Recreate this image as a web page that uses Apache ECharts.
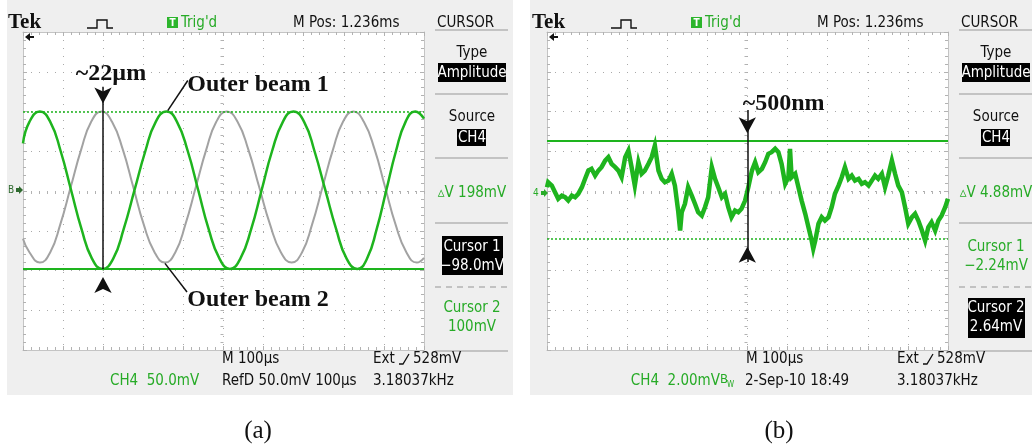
<!DOCTYPE html>
<html><head><meta charset="utf-8">
<script src="https://cdn.jsdelivr.net/npm/echarts/dist/echarts.min.js"></script>
<style>html,body{margin:0;padding:0;background:#fff;}#c{width:1034px;height:445px;}</style>
</head><body><div id="c"></div>
<script>
// ---------- DATA (time in µs, amplitude in mV) ----------
// Panel (a): CH4 live trace (green) and RefD reference trace (grey)
const aGreenTime = [0, 16, 42, 68, 94, 120, 146, 172, 198, 225, 251, 278, 305, 331, 358, 384, 411, 437, 463, 490, 516, 542, 569, 595, 621, 648, 674, 701, 727, 754, 781, 807, 834, 858, 882, 906, 930, 954, 978, 1000];
const aGreenMV   = [60, 87, 100, 87, 50, 1, -48, -85, -98, -85, -48, 1, 50, 87, 100, 87, 50, 1, -48, -85, -98, -85, -48, 1, 50, 87, 100, 87, 50, 1, -48, -85, -98, -85, -48, 1, 50, 87, 100, 91];
const aGrayTime  = [0, 16, 42, 68, 93, 119, 145, 170, 196, 222, 249, 275, 301, 328, 354, 380, 405, 431, 457, 482, 508, 535, 562, 589, 616, 643, 670, 696, 721, 747, 773, 798, 824, 850, 877, 903, 929, 956, 982, 1000];
const aGrayMV    = [-60, -77, -90, -77, -42, 5, 52, 87, 100, 87, 52, 5, -42, -77, -90, -77, -42, 5, 52, 87, 100, 87, 52, 5, -42, -77, -90, -77, -42, 5, 52, 87, 100, 87, 52, 5, -42, -77, -90, -84];
const aCursorsMV = [-98.0, 100];   // Cursor 1 (selected, solid), Cursor 2 (dotted)
const aYRange    = [-200, 200];    // 50 mV/div x 8 div

// Panel (b): CH4 noise trace
const bTime = [0, 3, 12, 20, 28, 37, 45, 53, 62, 70, 78, 87, 95, 103, 111, 120, 128, 136, 145, 153, 161, 170, 178, 186, 195, 203, 211, 219, 228, 236, 244, 253, 261, 269, 278, 286, 294, 303, 311, 319, 327, 332, 336, 344, 352, 361, 369, 377, 386, 394, 402, 411, 419, 427, 436, 444, 452, 460, 469, 477, 485,
  494, 502, 511, 519, 527, 536, 544, 552, 560, 569, 577, 585, 594, 602, 606, 610, 619, 627, 635, 644, 652, 660, 664, 669, 677, 685, 693, 702, 710, 718, 727, 735, 743, 752, 760, 768, 777, 785, 793, 802, 810, 818, 826, 835, 843, 851, 860, 868, 876, 885, 893, 901, 910, 918, 926, 935, 943, 951, 959, 968, 976, 984, 993, 1000];
const bMV = [0.34, 0.59, 0.42, 0.09, -0.24, -0.08, -0.16, -0.33, -0.08, -0.16, 0.01, 0.34, 0.76, 1.17, 1.26, 0.92, 1.17, 1.34, 1.67, 1.84, 1.51, 1.34, 1.17, 0.84, 1.84, 2.17, 1.34, 0.42, 1.59, 1.01, 1.17, 1.51, 1.84, 2.42, 1.17, 0.76, 0.59, 0.67, 1.01, 0.42, -0.83, -1.83, -0.91, -0.49, 0.34, -0.08, -0.49, -0.91, -1.08, -0.66, -0.16, 1.34, 0.76, 0.34, -0.16, 0.01, -0.66, -1.16, -0.83, -0.91, -0.74,
  -0.33, 0.34, 1.17, 1.59, 1.09, 1.26, 1.59, 2.01, 2.09, 2.26, 2.09, 1.51, 0.51, 0.84, 2.26, 0.84, 1.01, 0.34, -0.33, -0.99, -1.66, -2.33, -2.74, -2.33, -1.49, -1.16, -1.33, -1.16, -0.66, 0.01, 0.42, 0.84, 1.34, 0.76, 0.92, 0.67, 0.76, 0.51, 0.59, 0.42, 0.67, 0.92, 0.76, 1.01, 0.34, 0.92, 1.67, 1.01, 0.42, 0.09, -0.66, -1.49, -1.16, -0.99, -1.33, -1.83, -2.33, -1.66, -1.41, -1.83, -1.33, -1.08, -0.66, -0.24];
const bCursorsMV = [-2.24, 2.64];  // Cursor 1 (dotted), Cursor 2 (selected, solid)
const bYRange    = [-7.8, 8.1];    // 2 mV/div, ground marker slightly below centre

// Annotations (data units)
const annA = {t: 199.5, top: 131, tipDown: 100, tipUp: -98, lbl: [219.5, 148], beam1: [586, 133], beam1Line: [[361, 101], [411, 139]], beam2: [586, -137], beam2Line: [[354, -91], [409, -127]]};
const annB = {t: 499.5, top: 4.2, tipDown: 2.64, tipUp: -2.24, bottom: -3.4, lbl: [590, 4.5]};

// ---------- STYLE ----------
const UI = "'Liberation Sans Narrow','DejaVu Sans Condensed','Liberation Sans',sans-serif";
const SERIF = "'Liberation Serif','Times New Roman',serif";
const TRACE_G = '#1eb41e', TXT_G = '#27ab27', GRID_C = '#b2b2b2';
const FS = '15px ';

function gridAxes(gi, pos, off) {
  const tick = {show: true, inside: true, length: 4, lineStyle: {color: GRID_C}};
  const base = {gridIndex: gi, type: 'value', min: 0, max: pos === 'x' ? 10 : 8, interval: 1,
    axisLabel: {show: false}, splitLine: {show: false}, minorSplitLine: {show: false},
    axisLine: {show: true, onZero: false, lineStyle: {color: '#c4c4c4', width: 1}},
    axisTick: tick, minorTick: {show: true, splitNumber: 5, length: 3, lineStyle: {color: GRID_C}}};
  const p1 = pos === 'x' ? 'bottom' : 'left', p2 = pos === 'x' ? 'top' : 'right';
  return [
    Object.assign({}, base, {position: p1, splitLine: {show: true, lineStyle: {color: '#a9a9a9', type: [1, 7], width: 1}}}),
    Object.assign({}, base, {position: p2}),
    Object.assign({}, base, {position: p1, offset: off, axisLine: {show: false, onZero: false},
      axisTick: {show: true, inside: false, length: 3, lineStyle: {color: GRID_C}}})
  ];
}
const dataX = gi => ({gridIndex: gi, type: 'value', min: 0, max: 1000, show: false});
const dataY = (gi, r) => ({gridIndex: gi, type: 'value', min: r[0], max: r[1], show: false});
const zip = (xs, ys) => xs.map((x, i) => [x, ys[i]]);

function arrows(a) {
  return [
    {coord: [a.t, a.tipDown], symbol: 'arrow', symbolSize: [13, 16], symbolRotate: 180, symbolOffset: [0, '-50%'], itemStyle: {color: '#111'}, label: {show: false}},
    {coord: [a.t, a.tipUp], symbol: 'arrow', symbolSize: [13, 16], symbolOffset: [0, '50%'], itemStyle: {color: '#111'}, label: {show: false}}
  ];
}
function note(c, text) {
  return {coord: c, symbol: 'circle', symbolSize: 0, label: {show: true, position: 'inside', formatter: text, color: '#111', fontFamily: SERIF, fontWeight: 'bold', fontSize: 24}};
}
const blk = {color: '#111', width: 1.5, type: 'solid'};

// ---------- GRAPHIC CHROME ----------
function txt(x, y, text, o) {
  return {type: 'text', x: x, y: y, z: 50, style: Object.assign({text: text, fill: '#111', font: FS + UI, align: 'left', verticalAlign: 'middle', textAlign: 'left', textVerticalAlign: 'middle'}, o || {})};
}
const C = {align: 'center', textAlign: 'center'};
function rect(x, y, w, h, fill, z) { return {type: 'rect', z: z == null ? 40 : z, shape: {x: x, y: y, width: w, height: h}, style: {fill: fill}}; }
function hline(x1, x2, y, dashed) {
  return {type: 'line', z: 40, shape: {x1: x1, y1: y, x2: x2, y2: y}, style: {stroke: '#b4b4b4', lineWidth: 1.5, lineDash: dashed ? [6, 5] : null}};
}
function chrome(dx, p) {
  const g = [], cx = 472 + dx;
  g.push(rect(p.bgX, 0, p.bgW, 395, '#efefef', -10));
  g.push(txt(8 + dx, 23, 'Tek', {font: 'bold 21px ' + SERIF}));
  g.push({type: 'polyline', z: 50, shape: {points: [[87 + dx, 28], [97 + dx, 28], [97 + dx, 20], [107 + dx, 20], [107 + dx, 28], [113 + dx, 28]]}, style: {stroke: '#111', lineWidth: 1.4, fill: null}});
  g.push(rect(167 + dx, 17, 11, 11, '#2cb52c', 45));
  g.push(txt(172.5 + dx, 23, 'T', Object.assign({fill: '#fff', font: 'bold 10px ' + UI}, C)));
  g.push(txt(181 + dx, 23, "Trig'd", {fill: TXT_G}));
  g.push(txt(293 + dx, 23, 'M Pos: 1.236ms'));
  g.push(txt(437 + dx, 23, 'CURSOR'));
  [30, 94, 158, 223, 351].forEach(y => g.push(hline(435 + dx, 508 + dx, y, false)));
  g.push(hline(435 + dx, 508 + dx, 287, true));
  g.push(txt(cx, 53, 'Type', C));
  g.push(rect(cx - 34, 63, 68, 19, '#000'));
  g.push(txt(cx, 73, 'Amplitude', Object.assign({fill: '#fff'}, C)));
  g.push(txt(cx, 117, 'Source', C));
  g.push(rect(cx - 15, 129, 29, 17, '#000'));
  g.push(txt(cx, 138, 'CH4', Object.assign({fill: '#fff'}, C)));
  g.push(txt(cx, 193, p.dv, Object.assign({fill: TXT_G}, C)));
  if (p.sel === 1) { g.push(rect(cx - 30, 236, 61, 39, '#000')); }
  else { g.push(rect(cx - 28, 298, 57, 40, '#000')); }
  const c1 = p.sel === 1 ? '#fff' : TXT_G, c2 = p.sel === 2 ? '#fff' : TXT_G;
  g.push(txt(cx, 247, 'Cursor 1', Object.assign({fill: c1}, C)));
  g.push(txt(cx, 266, p.c1, Object.assign({fill: c1}, C)));
  g.push(txt(cx, 308, 'Cursor 2', Object.assign({fill: c2}, C)));
  g.push(txt(cx, 327, p.c2, Object.assign({fill: c2}, C)));
  // bottom status lines
  g.push(txt(222 + dx, 359, 'M 100µs'));
  g.push(txt(373 + dx, 359, 'Ext'));
  g.push({type: 'polyline', z: 50, shape: {points: [[399 + dx, 364], [403 + dx, 364], [409 + dx, 354]]}, style: {stroke: '#111', lineWidth: 1.3, fill: null}});
  g.push(txt(413 + dx, 359, '528mV'));
  g.push(txt(373 + dx, 381, '3.18037kHz'));
  // graticule markers
  g.push({type: 'polygon', z: 50, shape: {points: [[25 + dx, 37], [30 + dx, 33], [30 + dx, 36], [34 + dx, 36], [34 + dx, 38], [30 + dx, 38], [30 + dx, 41]]}, style: {fill: '#111'}});
  g.push(txt(p.mkX, p.mkY, p.mk, {font: '10px ' + UI, fill: p.mkC}));
  g.push({type: 'polygon', z: 50, shape: {points: [[p.mkX + 8, p.mkY - 2], [p.mkX + 11, p.mkY - 2], [p.mkX + 11, p.mkY - 4], [p.mkX + 15, p.mkY], [p.mkX + 11, p.mkY + 4], [p.mkX + 11, p.mkY + 2], [p.mkX + 8, p.mkY + 2]]}, style: {fill: p.mkC}});
  g.push(txt(p.capX, 431, p.cap, Object.assign({font: '25px ' + SERIF}, C)));
  return g;
}

const graphics = [].concat(
  chrome(0, {bgX: 7, bgW: 506, dv: '▵V 198mV', sel: 1, c1: '−98.0mV', c2: '100mV', mk: 'B', mkX: 8, mkY: 190, mkC: '#2f6a2f', cap: '(a)', capX: 258}),
  chrome(524, {bgX: 530, bgW: 502, dv: '▵V 4.88mV', sel: 2, c1: '−2.24mV', c2: '2.64mV', mk: '4', mkX: 533, mkY: 193, mkC: TXT_G, cap: '(b)', capX: 779}),
  [
    txt(110, 381, 'CH4  50.0mV', {fill: TXT_G}),
    txt(222, 381, 'RefD 50.0mV 100µs'),
    txt(720, 381, 'CH4  2.00mV', {fill: TXT_G, align: 'right', textAlign: 'right'}),
    txt(720, 380, 'B', {fill: TXT_G, font: '13px ' + UI}),
    txt(727, 385, 'W', {fill: TXT_G, font: '8px ' + UI}),
    txt(745, 381, '2-Sep-10 18:49')
  ]
);

const option = {
  animation: false,
  backgroundColor: '#fff',
  grid: [
    {left: 23, top: 32, width: 401, height: 318, show: true, backgroundColor: '#fff', borderWidth: 0},
    {left: 547, top: 32, width: 401, height: 318, show: true, backgroundColor: '#fff', borderWidth: 0}
  ],
  xAxis: [].concat(gridAxes(0, 'x', -159), [dataX(0)], gridAxes(1, 'x', -159), [dataX(1)]),
  yAxis: [].concat(gridAxes(0, 'y', -200.5), [dataY(0, aYRange)], gridAxes(1, 'y', -200.5), [dataY(1, bYRange)]),
  series: [
    {name: 'RefD', type: 'line', xAxisIndex: 3, yAxisIndex: 3, data: zip(aGrayTime, aGrayMV), smooth: 0.5, showSymbol: false, z: 3,
      lineStyle: {color: '#a2a2a2', width: 2}},
    {name: 'CH4 (a)', type: 'line', xAxisIndex: 3, yAxisIndex: 3, data: zip(aGreenTime, aGreenMV), smooth: 0.5, showSymbol: false, z: 4,
      lineStyle: {color: TRACE_G, width: 2.5},
      markLine: {silent: true, symbol: ['none', 'none'], label: {show: false}, animation: false, data: [
        {yAxis: aCursorsMV[0], lineStyle: {color: TRACE_G, width: 2, type: 'solid'}},
        {yAxis: aCursorsMV[1], lineStyle: {color: TRACE_G, width: 1.5, type: [2, 2]}},
        [{coord: [annA.t, annA.top], lineStyle: blk}, {coord: [annA.t, annA.tipUp]}],
        [{coord: annA.beam1Line[0], lineStyle: blk}, {coord: annA.beam1Line[1]}],
        [{coord: annA.beam2Line[0], lineStyle: blk}, {coord: annA.beam2Line[1]}]
      ]},
      markPoint: {silent: true, animation: false, data: arrows(annA).concat([
        note(annA.lbl, '~22µm'), note(annA.beam1, 'Outer beam 1'), note(annA.beam2, 'Outer beam 2')])}
    },
    {name: 'CH4 (b)', type: 'line', xAxisIndex: 7, yAxisIndex: 7, data: zip(bTime, bMV), showSymbol: false, z: 4,
      lineStyle: {color: TRACE_G, width: 4.5, join: 'miter'},
      markLine: {silent: true, symbol: ['none', 'none'], label: {show: false}, animation: false, data: [
        {yAxis: bCursorsMV[0], lineStyle: {color: TRACE_G, width: 1.5, type: [2, 2]}},
        {yAxis: bCursorsMV[1], lineStyle: {color: TRACE_G, width: 2, type: 'solid'}},
        [{coord: [annB.t, annB.top], lineStyle: blk}, {coord: [annB.t, annB.bottom]}]
      ]},
      markPoint: {silent: true, animation: false, data: arrows(annB).concat([note(annB.lbl, '~500nm')])}
    }
  ],
  graphic: {elements: graphics}
};
const chart = echarts.init(document.getElementById('c'), null, {renderer: 'canvas'});
chart.setOption(option);
</script></body></html>
